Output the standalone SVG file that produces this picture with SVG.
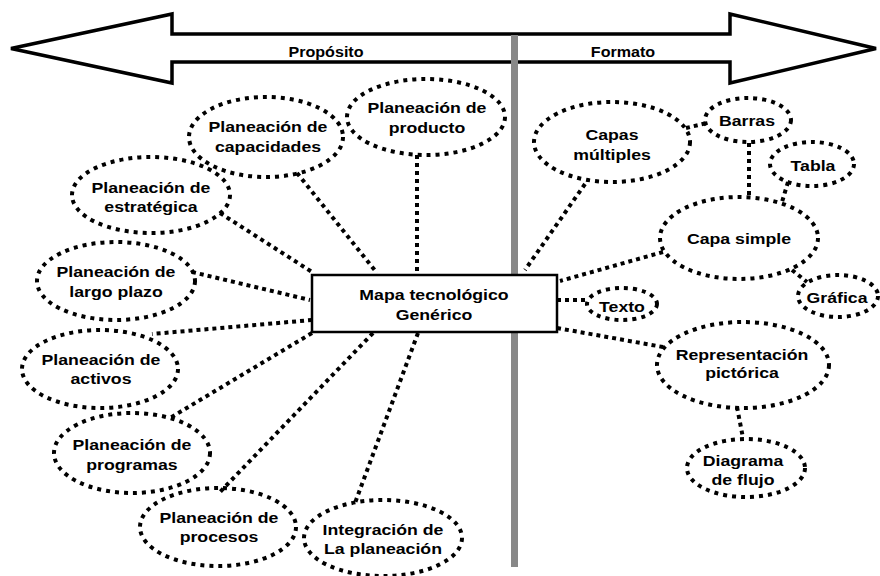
<svg xmlns="http://www.w3.org/2000/svg" width="880" height="576" viewBox="0 0 880 576">
<style>
text{font-family:"Liberation Sans",Arial,sans-serif;font-weight:bold;font-size:15px;fill:#000;text-anchor:middle}
.h{font-size:14px}
.n{fill:none;stroke:#000;stroke-width:4;stroke-dasharray:4 5}
.c{fill:none;stroke:#000;stroke-width:4;stroke-dasharray:4 4}
</style>
<rect width="880" height="576" fill="#fff"/>
<g id="axis">
<polygon points="11,48.5 172,14 172,34 730,34 730,14 876,48.5 730,83 730,62 172,62 172,83" fill="#fff" stroke="#000" stroke-width="3.5" stroke-linejoin="miter"/>
<rect x="511" y="35" width="7" height="532" fill="#888"/>
<text class="h" transform="translate(326,57) scale(1.15 1)">Propósito</text>
<text class="h" transform="translate(623,57) scale(1.15 1)">Formato</text>
</g>
<g id="connectors">
<line class="c" x1="417" y1="155" x2="417" y2="273"/>
<line class="c" x1="297" y1="173" x2="377" y2="273"/>
<line class="c" x1="220" y1="213" x2="312" y2="272"/>
<line class="c" x1="192" y1="272" x2="310" y2="300"/>
<line class="c" x1="312" y1="320" x2="152" y2="334"/>
<line class="c" x1="312" y1="333" x2="170" y2="418"/>
<line class="c" x1="373" y1="333" x2="220" y2="492"/>
<line class="c" x1="418" y1="333" x2="355" y2="503"/>
<line class="c" x1="585" y1="184" x2="525" y2="270"/>
<line class="c" x1="663" y1="252" x2="560" y2="281"/>
<line class="c" x1="557" y1="300" x2="588" y2="300"/>
<line class="c" x1="557" y1="328" x2="663" y2="347"/>
<line class="c" x1="686" y1="128" x2="707" y2="123"/>
<line class="c" x1="749" y1="143" x2="749" y2="197"/>
<line class="c" x1="788" y1="182" x2="782" y2="202"/>
<line class="c" x1="792" y1="270" x2="807" y2="282"/>
<line class="c" x1="737" y1="407" x2="743" y2="438"/>
</g>
<g id="n-center">
<rect x="312" y="275" width="245" height="57" fill="#fff" stroke="#000" stroke-width="2.5"/>
<text transform="translate(434,300) scale(1.18 1)">Mapa tecnológico</text>
<text transform="translate(434,320) scale(1.18 1)">Genérico</text>
</g>
<g id="n-producto">
<ellipse class="n" cx="426" cy="117" rx="79" ry="38"/>
<text transform="translate(427,113) scale(1.18 1)">Planeación de</text>
<text transform="translate(427,133) scale(1.18 1)">producto</text>
</g>
<g id="n-capacidades">
<ellipse class="n" cx="266" cy="137" rx="77" ry="40"/>
<text transform="translate(268,132) scale(1.18 1)">Planeación de</text>
<text transform="translate(268,152) scale(1.18 1)">capacidades</text>
</g>
<g id="n-estrategica">
<ellipse class="n" cx="151" cy="195" rx="79" ry="38"/>
<text transform="translate(151,193) scale(1.18 1)">Planeación de</text>
<text transform="translate(151,212) scale(1.18 1)">estratégica</text>
</g>
<g id="n-largo">
<ellipse class="n" cx="116" cy="281" rx="79" ry="39"/>
<text transform="translate(116,277) scale(1.18 1)">Planeación de</text>
<text transform="translate(116,297) scale(1.18 1)">largo plazo</text>
</g>
<g id="n-activos">
<ellipse class="n" cx="100" cy="369" rx="78" ry="39"/>
<text transform="translate(101,365) scale(1.18 1)">Planeación de</text>
<text transform="translate(101,384) scale(1.18 1)">activos</text>
</g>
<g id="n-programas">
<ellipse class="n" cx="132" cy="453" rx="78" ry="40"/>
<text transform="translate(132,450) scale(1.18 1)">Planeación de</text>
<text transform="translate(132,470) scale(1.18 1)">programas</text>
</g>
<g id="n-procesos">
<ellipse class="n" cx="218" cy="527" rx="78" ry="39"/>
<text transform="translate(219,523) scale(1.18 1)">Planeación de</text>
<text transform="translate(219,542) scale(1.18 1)">procesos</text>
</g>
<g id="n-integracion">
<ellipse class="n" cx="383" cy="538" rx="79" ry="38"/>
<text transform="translate(383,535) scale(1.18 1)">Integración de</text>
<text transform="translate(383,554) scale(1.18 1)">La planeación</text>
</g>
<g id="n-capas">
<ellipse class="n" cx="612" cy="142" rx="78" ry="40"/>
<text transform="translate(612,140) scale(1.18 1)">Capas</text>
<text transform="translate(612,160) scale(1.18 1)">múltiples</text>
</g>
<g id="n-barras">
<ellipse class="n" cx="748" cy="120" rx="43" ry="22"/>
<text transform="translate(747,126) scale(1.18 1)">Barras</text>
</g>
<g id="n-tabla">
<ellipse class="n" cx="812" cy="164" rx="42" ry="22"/>
<text transform="translate(813,171) scale(1.18 1)">Tabla</text>
</g>
<g id="n-capasimple">
<ellipse class="n" cx="739" cy="238" rx="79" ry="41"/>
<text transform="translate(739,244) scale(1.18 1)">Capa simple</text>
</g>
<g id="n-texto">
<ellipse class="n" cx="622" cy="304" rx="35" ry="16"/>
<text transform="translate(622,312) scale(1.18 1)">Texto</text>
</g>
<g id="n-grafica">
<ellipse class="n" cx="838" cy="296" rx="40" ry="21"/>
<text transform="translate(837,303) scale(1.18 1)">Gráfica</text>
</g>
<g id="n-representacion">
<ellipse class="n" cx="743" cy="365" rx="86" ry="43"/>
<text transform="translate(742,360) scale(1.18 1)">Representación</text>
<text transform="translate(742,378) scale(1.18 1)">pictórica</text>
</g>
<g id="n-diagrama">
<ellipse class="n" cx="746" cy="468" rx="59" ry="29"/>
<text transform="translate(743,466) scale(1.18 1)">Diagrama</text>
<text transform="translate(743,485) scale(1.18 1)">de flujo</text>
</g>
</svg>
